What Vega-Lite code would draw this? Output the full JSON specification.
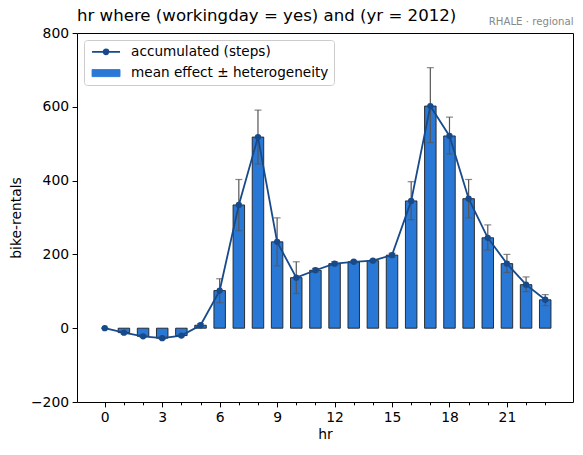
{
  "$schema": "https://vega.github.io/schema/vega-lite/v6.json",
  "width": 496,
  "height": 369,
  "autosize": {"type": "none"},
  "padding": {"left": 77, "top": 33, "right": 10, "bottom": 53},
  "background": "white",
  "config": {
    "font": "DejaVu Sans",
    "view": {"stroke": "black", "strokeWidth": 1},
    "axis": {
      "grid": false,
      "domain": false,
      "tickColor": "black",
      "labelColor": "black",
      "titleColor": "black",
      "labelFontSize": 13.9,
      "titleFontSize": 13.9,
      "titleFontWeight": "normal",
      "labelFont": "DejaVu Sans",
      "titleFont": "DejaVu Sans",
      "tickSize": 4.9,
      "labelPadding": 3.5,
      "tickWidth": 1
    }
  },
  "title": {
    "text": "hr where (workingday = yes) and (yr = 2012)",
    "anchor": "start",
    "frame": "group",
    "fontSize": 16.6,
    "fontWeight": "normal",
    "font": "DejaVu Sans",
    "color": "black",
    "offset": -9
  },
  "data": {
    "values": [
      {"hr": 0, "value": 0, "lo": 0, "hi": 0},
      {"hr": 1, "value": -12, "lo": -15, "hi": -9},
      {"hr": 2, "value": -22, "lo": -25, "hi": -19},
      {"hr": 3, "value": -27, "lo": -30, "hi": -24},
      {"hr": 4, "value": -20, "lo": -23, "hi": -17},
      {"hr": 5, "value": 8, "lo": 4, "hi": 12},
      {"hr": 6, "value": 102, "lo": 69, "hi": 134},
      {"hr": 7, "value": 334, "lo": 264, "hi": 403},
      {"hr": 8, "value": 518, "lo": 445, "hi": 591},
      {"hr": 9, "value": 234, "lo": 169, "hi": 299},
      {"hr": 10, "value": 137, "lo": 94, "hi": 180},
      {"hr": 11, "value": 157, "lo": 152, "hi": 162},
      {"hr": 12, "value": 175, "lo": 170, "hi": 180},
      {"hr": 13, "value": 180, "lo": 177, "hi": 183},
      {"hr": 14, "value": 183, "lo": 180, "hi": 186},
      {"hr": 15, "value": 198, "lo": 193, "hi": 203},
      {"hr": 16, "value": 345, "lo": 294, "hi": 397},
      {"hr": 17, "value": 602, "lo": 503, "hi": 706},
      {"hr": 18, "value": 521, "lo": 472, "hi": 572},
      {"hr": 19, "value": 351, "lo": 299, "hi": 403},
      {"hr": 20, "value": 245, "lo": 212, "hi": 280},
      {"hr": 21, "value": 175, "lo": 151, "hi": 200},
      {"hr": 22, "value": 118, "lo": 99, "hi": 139},
      {"hr": 23, "value": 77, "lo": 61, "hi": 91}
    ]
  },
  "resolve": {"axis": {"x": "independent"}},
  "layer": [
    {
      "transform": [{"filter": "datum.hr > 0"}],
      "mark": {"type": "bar", "size": 11.5, "stroke": "#1f1f1f", "strokeWidth": 0.9},
      "encoding": {
        "x": {
          "field": "hr",
          "type": "quantitative",
          "scale": {"domain": [-1.45, 24.45], "nice": false, "zero": false, "padding": 0},
          "axis": {
            "orient": "bottom",
            "title": "hr",
            "titlePadding": 3,
            "values": [0,1,2,3,4,5,6,7,8,9,10,11,12,13,14,15,16,17,18,19,20,21,22,23],
            "labelExpr": "datum.value % 3 === 0 ? datum.label : ''",
            "tickSize": {"condition": {"test": "datum.value % 3 === 0", "value": 4.9}, "value": 2.8}
          }
        },
        "y": {
          "field": "value",
          "type": "quantitative",
          "title": "bike-rentals",
          "scale": {"domain": [-200, 800], "nice": false},
          "axis": {
            "title": "bike-rentals",
            "values": [-200, 0, 200, 400, 600, 800],
            "labelExpr": "replace(datum.label, '-', '−')",
            "titlePadding": 7
          }
        },
        "color": {
          "datum": "mean effect ± heterogeneity",
          "type": "nominal",
          "scale": {
            "domain": ["accumulated (steps)", "mean effect ± heterogeneity"],
            "range": ["#174a8b", "#2a78d6"]
          },
          "legend": {
            "title": null,
            "orient": "top-left",
            "offset": 7,
            "padding": 5,
            "strokeColor": "#cccccc",
            "fillColor": "rgba(255,255,255,0.8)",
            "cornerRadius": 3,
            "labelFontSize": 13.6,
            "labelFont": "DejaVu Sans",
            "labelColor": "black",
            "labelLimit": 400,
            "symbolSize": 225,
            "rowPadding": 6.3,
            "labelOffset": 28.5,
            "encoding": {
              "symbols": {
                "shape": {"value": {"expr": "datum.value === 'accumulated (steps)' ? 'M-0.5,0L3.23,0M1.69,0A0.33,0.33,0,1,1,1.03,0A0.33,0.33,0,1,1,1.69,0Z' : 'M-0.5,-0.47L3.23,-0.47L3.23,0.47L-0.5,0.47Z'"}},
                "fill": {"value": {"expr": "datum.value === 'accumulated (steps)' ? '#174a8b' : '#2a78d6'"}},
                "stroke": {"value": {"expr": "datum.value === 'accumulated (steps)' ? '#174a8b' : '#1f1f1f'"}},
                "strokeWidth": {"value": {"expr": "datum.value === 'accumulated (steps)' ? 1.8 : 0.9"}},
                "opacity": {"value": 1},
                "fillOpacity": {"value": 1}
              }
            }
          }
        }
      }
    },
    {
      "mark": {
        "type": "errorbar",
        "ticks": {"color": "#555555", "size": 7, "thickness": 1.2},
        "rule": {"color": "#555555", "strokeWidth": 1.2}
      },
      "encoding": {
        "x": {"field": "hr", "type": "quantitative", "axis": null},
        "y": {"field": "lo", "type": "quantitative", "title": "bike-rentals"},
        "y2": {"field": "hi"}
      }
    },
    {
      "mark": {"type": "line", "strokeWidth": 1.8},
      "encoding": {
        "x": {"field": "hr", "type": "quantitative", "axis": null},
        "y": {"field": "value", "type": "quantitative", "title": "bike-rentals"},
        "color": {"datum": "accumulated (steps)", "type": "nominal"}
      }
    },
    {
      "mark": {"type": "point", "filled": true, "size": 40, "opacity": 1},
      "encoding": {
        "x": {
          "field": "hr",
          "type": "quantitative",
          "axis": {
            "orient": "top",
            "title": "RHALE · regional",
            "ticks": false,
            "labels": false,
            "domain": false,
            "titleAnchor": "end",
            "titleAlign": "right",
            "titleFontSize": 10.2,
            "titleColor": "#888888",
            "titlePadding": 7
          }
        },
        "y": {"field": "value", "type": "quantitative", "title": "bike-rentals"},
        "color": {"datum": "accumulated (steps)", "type": "nominal"}
      }
    }
  ]
}
